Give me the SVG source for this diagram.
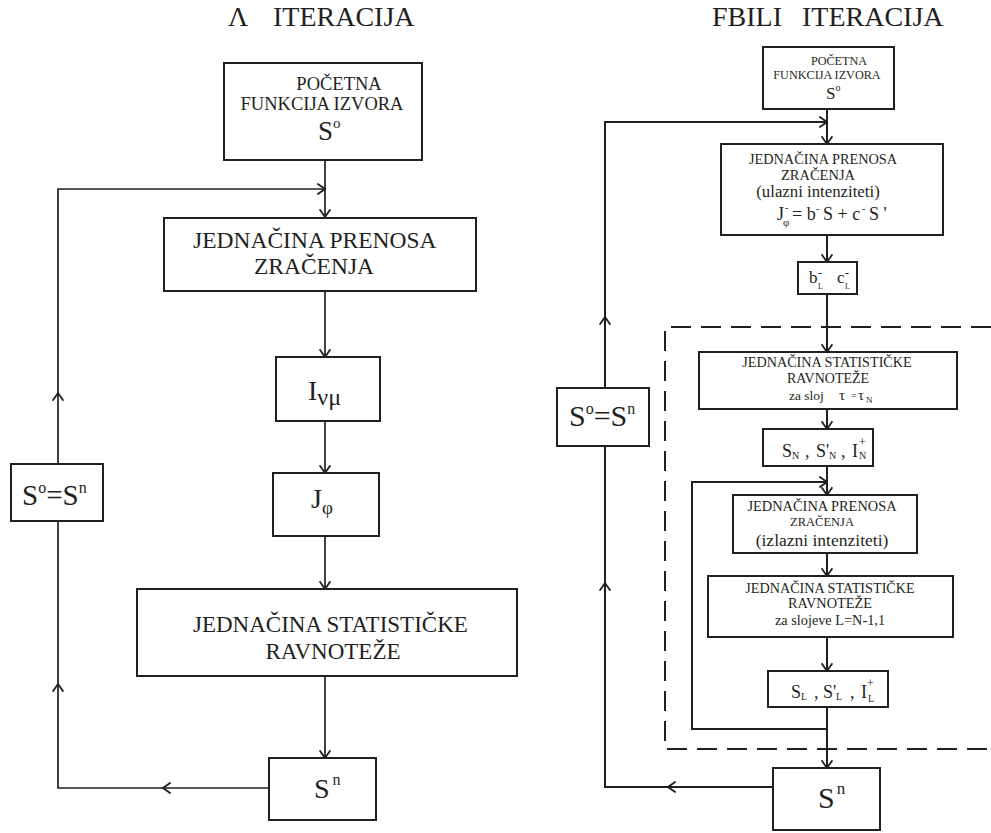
<svg xmlns="http://www.w3.org/2000/svg" width="991" height="833" viewBox="0 0 991 833" font-family="'Liberation Serif', 'DejaVu Serif', serif">
<style>
text{font-family:'Liberation Serif','DejaVu Serif',serif;fill:#231f20}
.box{fill:#fff;stroke:#231f20;stroke-width:2}
.ln{fill:none;stroke:#231f20;stroke-width:1.7}
.lnr{fill:none;stroke:#231f20;stroke-width:2}
.arr{marker-end:url(#ah)}
.dash{fill:none;stroke:#231f20;stroke-width:2;stroke-dasharray:20 10}
.m{text-anchor:middle}
</style>
<defs>
<marker id="ah" viewBox="0 0 9 12" refX="8.2" refY="6" markerWidth="9" markerHeight="12" markerUnits="userSpaceOnUse" orient="auto">
<path d="M0.5,0.6 L8.2,6 L0.5,11.4" fill="none" stroke="#231f20" stroke-width="1.8"/>
</marker>
</defs>
<rect width="991" height="833" fill="#fff"/>

<g id="titles">
<text x="228" y="26" font-size="28">Λ</text>
<text x="273" y="26" font-size="28">ITERACIJA</text>
<text x="712" y="26" font-size="28">FBILI</text>
<text x="802" y="26" font-size="28">ITERACIJA</text>
</g>

<g id="connectors">
<path class="ln arr" d="M325,160 L325,217"/>
<path class="ln arr" d="M325,291 L325,357"/>
<path class="ln arr" d="M325,421 L325,473"/>
<path class="ln arr" d="M325,536 L325,589"/>
<path class="ln arr" d="M325,676 L325,758"/>
<path class="ln arr" d="M269,788 L163,788"/>
<path class="ln arr" d="M163,788 L58,788 L58,684"/>
<path class="ln" d="M58,684 L58,521"/>
<path class="ln arr" d="M58,464 L58,393"/>
<path class="ln arr" d="M58,393 L58,189 L325,189"/>
<path class="lnr arr" d="M827,109 L827,144"/>
<path class="lnr arr" d="M827,235 L827,262"/>
<path class="lnr arr" d="M827,294 L827,352"/>
<path class="lnr arr" d="M827,409 L827,429"/>
<path class="lnr arr" d="M827,466 L827,495"/>
<path class="lnr arr" d="M827,553 L827,576"/>
<path class="lnr arr" d="M827,637 L827,671"/>
<path class="lnr arr" d="M827,707 L827,768"/>
<path class="lnr arr" d="M827,729 L692,729 L692,482 L827,482"/>
<path class="lnr arr" d="M773,787 L668,787"/>
<path class="lnr arr" d="M668,787 L605,787 L605,583"/>
<path class="lnr" d="M605,583 L605,446"/>
<path class="lnr arr" d="M605,388 L605,317"/>
<path class="lnr arr" d="M605,317 L605,122 L827,122"/>
<path class="dash" d="M991,327 L665,327 L665,749 L991,749"/>
</g>

<g id="L_start">
<rect class="box" x="224" y="63" width="198" height="97"/>
<text class="m" x="339" y="90" font-size="18.5">POČETNA</text>
<text class="m" x="322" y="110" font-size="18.5">FUNKCIJA IZVORA</text>
<text x="318" y="140" font-size="27">S<tspan font-size="15" dy="-12">o</tspan></text>
</g>
<g id="L_prenos">
<rect class="box" x="164" y="218" width="312" height="73"/>
<text x="193" y="248" font-size="23.5">JEDNAČINA PRENOSA</text>
<text class="m" x="314" y="274" font-size="23.5">ZRAČENJA</text>
</g>
<g id="L_I">
<rect class="box" x="276" y="357" width="104" height="64"/>
<text x="308" y="400" font-size="28">I<tspan font-size="24" dy="5">νμ</tspan></text>
</g>
<g id="L_J">
<rect class="box" x="273" y="473" width="106" height="63"/>
<text x="311" y="508" font-size="28">J<tspan font-size="19" dy="6">φ</tspan></text>
</g>
<g id="L_stat">
<rect class="box" x="137" y="589" width="380" height="87"/>
<text x="193" y="632" font-size="23">JEDNAČINA STATISTIČKE</text>
<text class="m" x="333" y="659" font-size="23">RAVNOTEŽE</text>
</g>
<g id="L_Sn">
<rect class="box" x="269" y="758" width="107" height="62"/>
<text x="314" y="798" font-size="28">S<tspan font-size="16" dx="3" dy="-13">n</tspan></text>
</g>
<g id="L_eq">
<rect class="box" x="11" y="464" width="92" height="57"/>
<text x="22" y="505" font-size="29">S<tspan font-size="16" dy="-12">o</tspan><tspan dy="12">=S</tspan><tspan font-size="16" dy="-12">n</tspan></text>
</g>

<g id="R_start">
<rect class="box" x="763" y="47" width="131" height="62"/>
<text class="m" x="839" y="65" font-size="12.2">POČETNA</text>
<text class="m" x="827" y="79" font-size="12.2">FUNKCIJA IZVORA</text>
<text x="826" y="99" font-size="17">S<tspan font-size="10" dy="-8">o</tspan></text>
</g>
<g id="R_prenos1">
<rect class="box" x="721" y="144" width="222" height="91"/>
<text class="m" x="823" y="164" font-size="14.3">JEDNAČINA PRENOSA</text>
<text class="m" x="818" y="180" font-size="14.5">ZRAČENJA</text>
<text class="m" x="818" y="197" font-size="16.8">(ulazni intenziteti)</text>
<text font-size="18"><tspan x="777" y="220">J</tspan><tspan x="783" y="226" font-size="11">φ</tspan><tspan x="785" y="211" font-size="10">-</tspan><tspan x="792" y="220">= b</tspan><tspan x="816" y="212" font-size="10">-</tspan><tspan x="823" y="220">S + c</tspan><tspan x="862" y="212" font-size="10">-</tspan><tspan x="869" y="220">S '</tspan></text>
</g>
<g id="R_bc">
<rect class="box" x="798" y="262" width="59" height="32"/>
<text font-size="17"><tspan x="809" y="283">b</tspan><tspan x="818" y="289" font-size="8">L</tspan><tspan x="818" y="277" font-size="12">-</tspan><tspan x="837" y="283">c</tspan><tspan x="845" y="289" font-size="8">L</tspan><tspan x="845" y="277" font-size="12">-</tspan></text>
</g>
<g id="R_stat1">
<rect class="box" x="699" y="352" width="258" height="57"/>
<text class="m" x="827" y="367" font-size="14.2">JEDNAČINA STATISTIČKE</text>
<text class="m" x="828" y="383" font-size="14">RAVNOTEŽE</text>
<text font-size="13.5"><tspan x="789" y="400">za sloj</tspan><tspan x="839" y="400" font-size="15">τ</tspan><tspan x="851" y="399" font-size="10">=</tspan><tspan x="858" y="400" font-size="15">τ</tspan><tspan x="866" y="403" font-size="9">N</tspan></text>
</g>
<g id="R_SN">
<rect class="box" x="763" y="429" width="110" height="37"/>
<text font-size="18"><tspan x="782" y="457">S</tspan><tspan x="792" y="459" font-size="10">N</tspan><tspan x="805" y="457">,</tspan><tspan x="816" y="457">S'</tspan><tspan x="829" y="459" font-size="10">N</tspan><tspan x="841" y="457">,</tspan><tspan x="852" y="457">I</tspan><tspan x="859" y="459" font-size="10">N</tspan><tspan x="859" y="446" font-size="12">+</tspan></text>
</g>
<g id="R_prenos2">
<rect class="box" x="733" y="495" width="184" height="58"/>
<text class="m" x="822" y="511" font-size="14.4">JEDNAČINA PRENOSA</text>
<text class="m" x="822" y="526" font-size="12.5">ZRAČENJA</text>
<text class="m" x="822" y="546" font-size="17.5">(izlazni intenziteti)</text>
</g>
<g id="R_stat2">
<rect class="box" x="708" y="576" width="245" height="61"/>
<text class="m" x="830" y="593" font-size="14.2">JEDNAČINA STATISTIČKE</text>
<text class="m" x="830" y="608" font-size="14.3">RAVNOTEŽE</text>
<text class="m" x="830" y="625" font-size="14.3">za slojeve L=N-1,1</text>
</g>
<g id="R_SL">
<rect class="box" x="768" y="671" width="120" height="36"/>
<text font-size="18"><tspan x="791" y="698">S</tspan><tspan x="801" y="700" font-size="10">L</tspan><tspan x="814" y="698">,</tspan><tspan x="823" y="698">S'</tspan><tspan x="836" y="700" font-size="10">L</tspan><tspan x="850" y="698">,</tspan><tspan x="861" y="698">I</tspan><tspan x="868" y="702" font-size="10">L</tspan><tspan x="867" y="687" font-size="12">+</tspan></text>
</g>
<g id="R_Sn">
<rect class="box" x="773" y="768" width="107" height="62"/>
<text x="818" y="808" font-size="30">S<tspan font-size="17" dx="2" dy="-14">n</tspan></text>
</g>
<g id="R_eq">
<rect class="box" x="557" y="388" width="92" height="58"/>
<text x="569" y="426" font-size="30">S<tspan font-size="16" dy="-12">o</tspan><tspan dy="12">=S</tspan><tspan font-size="16" dy="-12">n</tspan></text>
</g>
</svg>
